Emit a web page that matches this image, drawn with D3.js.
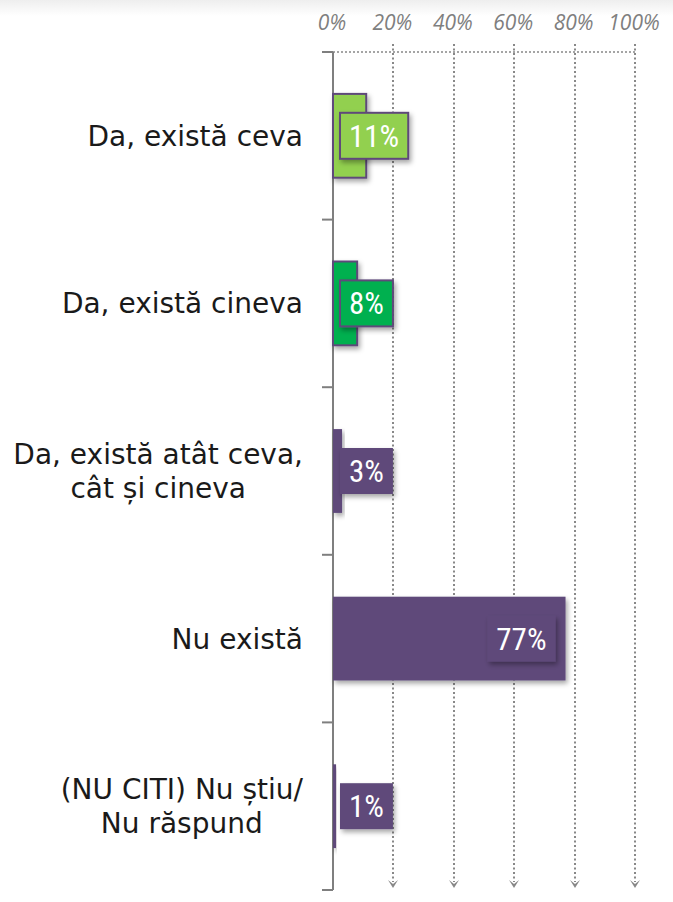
<!DOCTYPE html>
<html><head><meta charset="utf-8">
<script src="https://cdn.jsdelivr.net/npm/d3@7"></script>
<style>body{margin:0;background:#fff}svg{display:block}</style>
</head><body>
<svg id="c" width="673" height="902"></svg>
<script>
const categories = [["Da, există ceva"], ["Da, există cineva"], ["Da, există atât ceva,", "cât și cineva"], ["Nu există"], ["(NU CITI) Nu știu/", "Nu răspund"]];
const values = [11, 8, 3, 77, 1];
const barColors = ["#92D050", "#00B050", "#5E4A7A", "#5E4A7A", "#5E4A7A"];
const tickValues = [0, 20, 40, 60, 80, 100];
const tickLabels = ["0%", "20%", "40%", "60%", "80%", "100%"];

(function(){
const svg = d3.select("#c");
const defs = svg.append("defs");
const g0 = defs.append("linearGradient").attr("id","topg").attr("x1",0).attr("y1",0).attr("x2",0).attr("y2",1);
g0.append("stop").attr("offset","0%").attr("stop-color","#eeeeee");
g0.append("stop").attr("offset","100%").attr("stop-color","#ffffff");
svg.append("rect").attr("x",0).attr("y",0).attr("width",673).attr("height",16).attr("fill","url(#topg)");

const f = defs.append("filter").attr("id","sh").attr("x","-20%").attr("y","-20%").attr("width","150%").attr("height","160%");
f.append("feDropShadow").attr("dx",2).attr("dy",3).attr("stdDeviation",2.5).attr("flood-color","#000").attr("flood-opacity",0.35);

const x = d3.scaleLinear().domain([0,100]).range([333,635]);
const y = d3.scaleBand().domain(d3.range(values.length)).range([52,890]).paddingInner(0.5).paddingOuter(0.25);
const yTop = 52, yBot = 890;
const gx = d => Math.round(x(d));

// gridlines
const grid = svg.append("g");
grid.selectAll("line").data(tickValues.slice(1)).join("line")
  .attr("x1",gx).attr("x2",gx).attr("y1",yTop-8).attr("y2",yBot-8)
  .attr("stroke","#888888").attr("stroke-width",2).attr("stroke-dasharray","2,2.5");
grid.selectAll("path").data(tickValues.slice(1)).join("path")
  .attr("d",d=>{const c=gx(d), b=yBot-2; return `M${c-5},${b-8} L${c},${b-4} L${c+5},${b-8} L${c},${b} Z`;})
  .attr("fill","#888888");
svg.append("line").attr("x1",x(0)).attr("x2",x(100)).attr("y1",yTop).attr("y2",yTop)
  .attr("stroke","#888888").attr("stroke-width",1.5).attr("stroke-dasharray","2,2");

// tick labels
svg.append("g").selectAll("text").data(tickValues).join("text")
  .attr("x",d=>x(d)-1).attr("y",30).attr("text-anchor","middle")
  .attr("font-family","Open Sans, sans-serif").attr("font-style","italic").attr("font-size",21)
  .attr("fill","#7f7f7f").text((d,i)=>tickLabels[i]);

// axis
const ax = svg.append("g").attr("stroke","#7f7f7f").attr("stroke-width",2).attr("fill","none");
ax.append("line").attr("x1",x(0)).attr("x2",x(0)).attr("y1",yTop).attr("y2",yBot);
const bstep = (yBot-yTop)/values.length;
ax.selectAll(".t").data(d3.range(values.length+1)).join("line")
  .attr("x1",x(0)-11).attr("x2",x(0)).attr("y1",i=>yTop+i*bstep).attr("y2",i=>yTop+i*bstep);

// bars
svg.append("g").selectAll("rect").data(values).join("rect")
  .attr("x",x(0)).attr("y",(d,i)=>y(i)).attr("width",d=>x(d)-x(0)).attr("height",y.bandwidth())
  .attr("fill",(d,i)=>barColors[i])
  .attr("stroke",(d,i)=>i<2?"#5F497A":"none").attr("stroke-width",2)
  .attr("filter","url(#sh)");

// value labels
values.forEach((v,i)=>{
  const cy = y(i)+y.bandwidth()/2;
  const g = svg.append("g");
  const t = g.append("text").attr("y",cy+11).attr("text-anchor","middle")
    .attr("font-family","Liberation Sans Narrow, Roboto Condensed, Roboto, sans-serif").attr("font-size",31)
    .attr("fill","#fff").text(v+"%");
  const w = t.node().getComputedTextLength()+18;
  let bx = x(0)+7;
  if (x(v)-x(0) > w+30) bx = x(v)-10-w;
  g.insert("rect","text").attr("x",bx).attr("y",cy-23).attr("width",w).attr("height",46)
    .attr("fill",barColors[i]).attr("stroke",i<2?"#5F497A":"none").attr("stroke-width",2)
    .attr("filter","url(#sh)");
  t.attr("x",bx+w/2);
});

// category labels
categories.forEach((lines,i)=>{
  const cy = yTop+(i+0.5)*bstep;
  const lh = 34;
  const g = svg.append("g");
  const ts = lines.map((l,j)=>g.append("text").attr("y",cy+10+(j-(lines.length-1)/2)*lh)
    .attr("font-family","DejaVu Sans, sans-serif").attr("font-size",28).attr("fill","#1a1a1a")
    .attr("text-anchor","middle").text(l));
  const mw = d3.max(ts,t=>t.node().getComputedTextLength());
  ts.forEach(t=>t.attr("x",303-mw/2));
});
})();
</script>
</body></html>
